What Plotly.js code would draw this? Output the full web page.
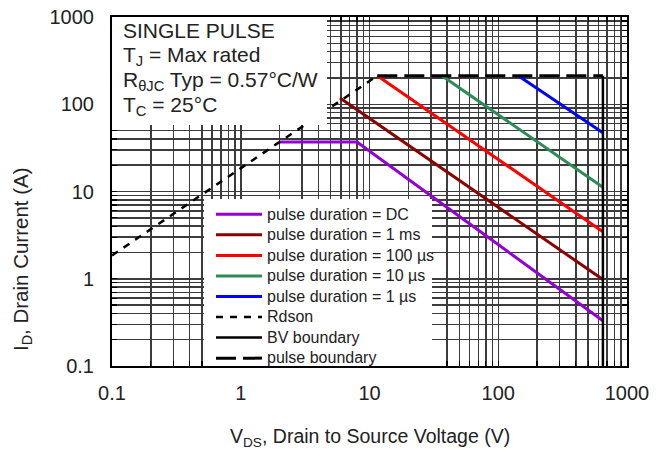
<!DOCTYPE html>
<html>
<head>
<meta charset="utf-8">
<script src="https://cdn.plot.ly/plotly-3.0.1.min.js"></script>
<style>html,body{margin:0;padding:0;background:#fff;}#chart{width:663px;height:449px;}</style>
</head>
<body>
<div id="chart"></div>
<script>
// ---- data ----
const dcV = [2, 8, 650];
const dcI = [37, 37, 0.33];
const ms1V = [5.9, 650];
const ms1I = [118, 0.98];
const us100V = [11.5, 650];
const us100I = [212, 3.45];
const us10V = [36.5, 650];
const us10I = [212, 11.2];
const us1V = [143, 650];
const us1I = [212, 47];
const rdsonV = [0.1, 11.5];
const rdsonI = [1.85, 212];
const bvV = [650, 650];
const bvI = [212, 0.1];
const pulseV = [11.5, 650];
const pulseI = [212, 212];

const seriesNames = ['pulse duration = DC', 'pulse duration = 1 ms', 'pulse duration = 100 µs',
  'pulse duration = 10 µs', 'pulse duration = 1 µs', 'Rdson', 'BV boundary', 'pulse boundary'];
const decadeLabels = ['0.1', '1', '10', '100', '1000'];
const decades = [0.1, 1, 10, 100, 1000];
const infoLines = ['SINGLE PULSE', 'T<sub>J</sub> = Max rated', 'R<sub>θJC</sub> Typ = 0.57°C/W', 'T<sub>C</sub> = 25°C'];
const xTitle = 'V<sub>DS</sub>, Drain to Source Voltage (V)';
const yTitle = 'I<sub>D</sub>, Drain Current (A)';

// minor grid values (2..9 per decade)
const minorVals = [];
for (let d = 0; d < decades.length - 1; d++) {
  for (let m = 2; m <= 9; m++) minorVals.push(+(decades[d] * m).toPrecision(6));
}

const FONT = '"Liberation Sans", Arial, Helvetica, sans-serif';
const TXT = '#222';
// plot-area geometry helpers (pixel -> paper)
const PL = 112, PW = 515, PT = 17, PH = 349;
const px2x = p => (p - PL) / PW;
const px2y = p => 1 - (p - PT) / PH;

function tr(x, y, name, color, width, dash) {
  return {x: x, y: y, name: '<span style="font-size:16px">' + name + '</span>',
    type: 'scatter', mode: 'lines', line: {color: color, width: width, dash: dash || 'solid'}};
}

const traces = [
  tr(dcV, dcI, seriesNames[0], '#9400D3', 3),
  tr(ms1V, ms1I, seriesNames[1], '#8B0000', 3),
  tr(us100V, us100I, seriesNames[2], '#FF0000', 3),
  tr(us10V, us10I, seriesNames[3], '#2E8B57', 3),
  tr(us1V, us1I, seriesNames[4], '#0000FF', 3),
  tr(rdsonV, rdsonI, seriesNames[5], '#000', 2.5, '7px,7px'),
  tr(bvV, bvI, seriesNames[6], '#000', 2.5),
  tr(pulseV, pulseI, seriesNames[7], '#000', 3, '20px,7px')
];

const GRID = '#3c3c3c';
const axisCommon = {
  type: 'log',
  tickmode: 'array',
  tickvals: decades,
  ticktext: decadeLabels,
  showgrid: true,
  gridcolor: GRID,
  gridwidth: 1.5,
  ticks: 'inside',
  ticklen: 5,
  tickwidth: 1.2,
  tickcolor: '#000',
  minor: {tickmode: 'array', tickvals: minorVals, showgrid: true, gridcolor: GRID, gridwidth: 1.5,
          ticks: 'inside', ticklen: 5, tickwidth: 1.2, tickcolor: '#000'},
  showline: true,
  linecolor: '#000',
  linewidth: 2,
  mirror: 'ticks',
  zeroline: false,
  tickfont: {family: FONT, size: 20, color: TXT}
};

const infoY = [30, 56, 81, 106];
const annotations = infoLines.map((t, i) => ({
  xref: 'paper', yref: 'paper', x: px2x(122), y: px2y(infoY[i]),
  xanchor: 'left', yanchor: 'middle', text: t, showarrow: false, align: 'left',
  borderpad: 0, font: {family: FONT, size: 21, color: TXT}
}));
annotations.push(
  {xref: 'paper', yref: 'paper', x: 0.5, y: px2y(437), xanchor: 'center', yanchor: 'middle',
   text: xTitle, showarrow: false, font: {family: FONT, size: 19.5, color: TXT}},
  {xref: 'paper', yref: 'paper', x: px2x(22), y: px2y(259), xanchor: 'center', yanchor: 'middle',
   textangle: -90, text: yTitle, showarrow: false, font: {family: FONT, size: 20.5, color: TXT}}
);

const layout = {
  width: 663, height: 449,
  margin: {l: PL, r: 663 - PL - PW, t: PT, b: 449 - PT - PH},
  paper_bgcolor: '#fff', plot_bgcolor: '#fff',
  showlegend: true,
  legend: {
    x: px2x(211), y: px2y(199), xanchor: 'left', yanchor: 'top',
    bgcolor: 'rgba(0,0,0,0)', borderwidth: 0,
    font: {family: FONT, size: 13.5, color: TXT},
    tracegroupgap: 0, itemwidth: 46
  },
  xaxis: Object.assign({}, axisCommon, {range: [-1, 3], ticklabelstandoff: 8}),
  yaxis: Object.assign({}, axisCommon, {range: [-1, 3], ticklabelstandoff: 12}),
  shapes: [
    // white box behind the info text
    {type: 'rect', xref: 'paper', yref: 'paper', x0: 0, x1: px2x(327), y0: px2y(125), y1: 1,
     fillcolor: '#fff', line: {width: 0}, layer: 'above'},
    // white area behind the legend
    {type: 'rect', xref: 'paper', yref: 'paper', x0: px2x(204), x1: px2x(432), y0: 0, y1: px2y(199),
     fillcolor: '#fff', line: {width: 0}, layer: 'above'}
  ],
  annotations: annotations
};

Plotly.newPlot('chart', traces, layout, {displayModeBar: false, staticPlot: true});
</script>
</body>
</html>
